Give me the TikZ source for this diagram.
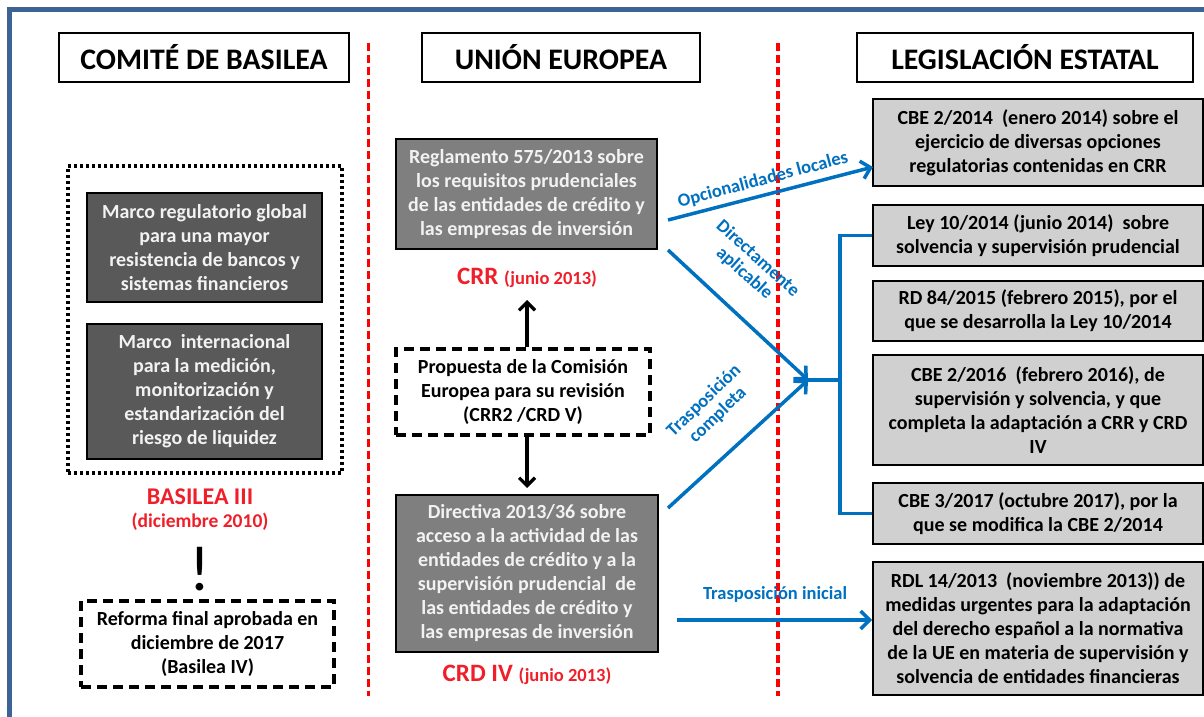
\documentclass[tikz,border=0pt]{standalone}
\usepackage{fontspec}
\setmainfont{Carlito}
\usetikzlibrary{arrows.meta}
\definecolor{frameblue}{RGB}{61,98,150}
\definecolor{arrblue}{RGB}{0,112,192}
\definecolor{redtxt}{RGB}{240,30,40}
\definecolor{darkfill}{RGB}{89,89,89}
\definecolor{medfill}{RGB}{127,127,127}
\definecolor{lightfill}{RGB}{208,208,208}
\definecolor{whitetxt}{RGB}{242,242,242}
\tikzset{
  header/.style={draw=black, line width=2pt, fill=white, inner sep=0pt, font=\fontsize{29.8}{32}\selectfont\bfseries},
  boxtext/.style={align=center, inner sep=0pt, font=\fontsize{20}{24}\selectfont\bfseries},
  darkbox/.style={boxtext, draw=black, line width=2pt, fill=darkfill, text=whitetxt},
  medbox/.style={boxtext, draw=black, line width=2pt, fill=medfill, text=whitetxt},
  lightbox/.style={boxtext, draw=black, line width=2pt, fill=lightfill, text=black},
  dashbox/.style={boxtext, draw=black, line width=3.2pt, dash pattern=on 10pt off 6pt, text=black},
  dotbox/.style={draw=black, line width=3.5pt, dash pattern=on 3pt off 3pt, inner sep=0pt},
  redline/.style={draw=red, line width=3.3pt, dash pattern=on 8pt off 4pt},
  bluearr/.style={draw=arrblue, line width=3.5pt, -{Straight Barb[length=9pt,width=18pt,line width=3.5pt]}},
  blueline/.style={draw=arrblue, line width=3.5pt},
  blackarr/.style={draw=black, line width=3.2pt, -{Straight Barb[length=8pt,width=16pt,line width=3.2pt]}},
  redlbl/.style={text=redtxt, inner sep=0pt, font=\bfseries},
  bluelbl/.style={text=arrblue, inner sep=0pt, align=center, font=\fontsize{18.5}{20}\selectfont\bfseries},
}
\begin{document}
\begin{tikzpicture}[x=1pt,y=-1pt]
\useasboundingbox (0,0) rectangle (1204,717);
% frame
\draw[frameblue, line width=4.5pt] (9.5,717) -- (9.5,9.5) -- (1204,9.5);
% red separators
\coordinate (s1t) at (368.5,43);
\coordinate (s1b) at (368.5,696);
\coordinate (s2t) at (778,43);
\coordinate (s2b) at (778,696);
\draw[redline] (s1t) -- (s1b);
\draw[redline] (s2t) -- (s2b);
% headers
\node[header, minimum width=290pt, minimum height=49pt] (h1) at (204,57.5) {COMITÉ DE BASILEA};
\node[header, minimum width=278pt, minimum height=49pt] (h2) at (561,57.5) {UNIÓN EUROPEA};
\node[header, minimum width=336pt, minimum height=49pt] (h3) at (1025,57.5) {LEGISLACIÓN ESTATAL};
% left column
\node[dotbox, minimum width=274pt, minimum height=307pt] (dots) at (205,319.5) {};
\node[darkbox, minimum width=235pt, minimum height=109pt] (m1) at (204.5,247.5)
  {Marco regulatorio global\\para una mayor\\resistencia de bancos y\\sistemas financieros};
\node[darkbox, minimum width=235pt, minimum height=135pt] (m2) at (204.5,391.5)
  {Marco\ \ internacional\\para la medición,\\monitorización y\\estandarización del\\riesgo de liquidez};
\node[redlbl, font=\fontsize{24}{26}\selectfont\bfseries] (b3) at (200,497) {BASILEA III};
\node[redlbl, font=\fontsize{19.5}{22}\selectfont\bfseries] (b3d) at (200,522) {(diciembre 2010)};
\node[inner sep=0pt, font=\fontsize{64}{64}\selectfont] (excl) at (200,569) {!};
\node[dashbox, minimum width=253pt, minimum height=86pt] (ref) at (207.5,644)
  {Reforma final aprobada en\\diciembre de 2017\\(Basilea IV)};
% middle column
\node[medbox, minimum width=261pt, minimum height=110pt] (crr) at (526.5,194)
  {Reglamento 575/2013 sobre\\los requisitos prudenciales\\de las entidades de crédito y\\las empresas de inversión};
\node[redlbl] (crrl) at (527,278) {\fontsize{25}{26}\selectfont CRR \fontsize{18.5}{20}\selectfont(junio 2013)};
\node[dashbox, minimum width=254pt, minimum height=86pt] (prop) at (523,392)
  {Propuesta de la Comisión\\Europea para su revisión\\(CRR2 /CRD V)};
\node[medbox, minimum width=262pt, minimum height=157pt] (crd) at (527,573.5)
  {Directiva 2013/36 sobre\\acceso a la actividad de las\\entidades de crédito y a la\\supervisión prudencial\ \ de\\las entidades de crédito y\\las empresas de inversión};
\node[redlbl] (crdl) at (527,675) {\fontsize{25}{26}\selectfont CRD IV \fontsize{18.5}{20}\selectfont(junio 2013)};
\coordinate (upend) at (527,300);
\coordinate (downend) at (527,488);
\draw[blackarr] (prop.north -| upend) -- (upend);
\draw[blackarr] (prop.south -| downend) -- (downend);
% right column
\node[lightbox, minimum width=330pt, minimum height=87pt] (cbe1) at (1038,142.5)
  {CBE 2/2014\ \ (enero 2014) sobre el\\ejercicio de diversas opciones\\regulatorias contenidas en CRR};
\node[lightbox, minimum width=330pt, minimum height=61pt] (ley) at (1038,235.5)
  {Ley 10/2014 (junio 2014)\ \ sobre\\solvencia y supervisión prudencial};
\node[lightbox, minimum width=330pt, minimum height=60pt] (rd) at (1038,311)
  {RD 84/2015 (febrero 2015), por el\\que se desarrolla la Ley 10/2014};
\node[lightbox, minimum width=330pt, minimum height=110pt] (cbe2) at (1038,410)
  {CBE 2/2016\ \ (febrero 2016), de\\supervisión y solvencia, y que\\completa la adaptación a CRR y CRD\\IV};
\node[lightbox, minimum width=330pt, minimum height=61pt] (cbe3) at (1038,513.5)
  {CBE 3/2017 (octubre 2017), por la\\que se modifica la CBE 2/2014};
\node[lightbox, minimum width=330pt, minimum height=133pt] (rdl) at (1038,628.5)
  {RDL 14/2013\ \ (noviembre 2013)) de\\medidas urgentes para la adaptación\\del derecho español a la normativa\\de la UE en materia de supervisión y\\solvencia de entidades financieras};
% blue connectors
\coordinate (o1) at (668,220);
\coordinate (o1e) at (873,167);
\coordinate (d1) at (668,250);
\coordinate (t1) at (668,508);
\coordinate (J) at (808,380);
\coordinate (bx) at (840,380);
\coordinate (i1) at (677,620);
\draw[bluearr] (o1) -- (o1e);
\draw[bluearr] (d1) -- (J);
\draw[bluearr] (t1) -- (J);
\draw[blueline] (J) -- (bx);
\draw[blueline] (ley.west) -- (ley.west -| bx) -- (cbe3.west -| bx) -- (cbe3.west);
\draw[bluearr] (i1) -- (i1 -| rdl.west);
% blue labels
\node[bluelbl, rotate=15] (lo) at (763,180) {Opcionalidades locales};
\node[bluelbl, rotate=-42] (ld) at (751,266) {Directamente\\aplicable};
\node[bluelbl, rotate=44] (lt) at (711,408) {Trasposición\\completa};
\node[bluelbl] (li) at (775,594) {Trasposición inicial};
\end{tikzpicture}
\end{document}
